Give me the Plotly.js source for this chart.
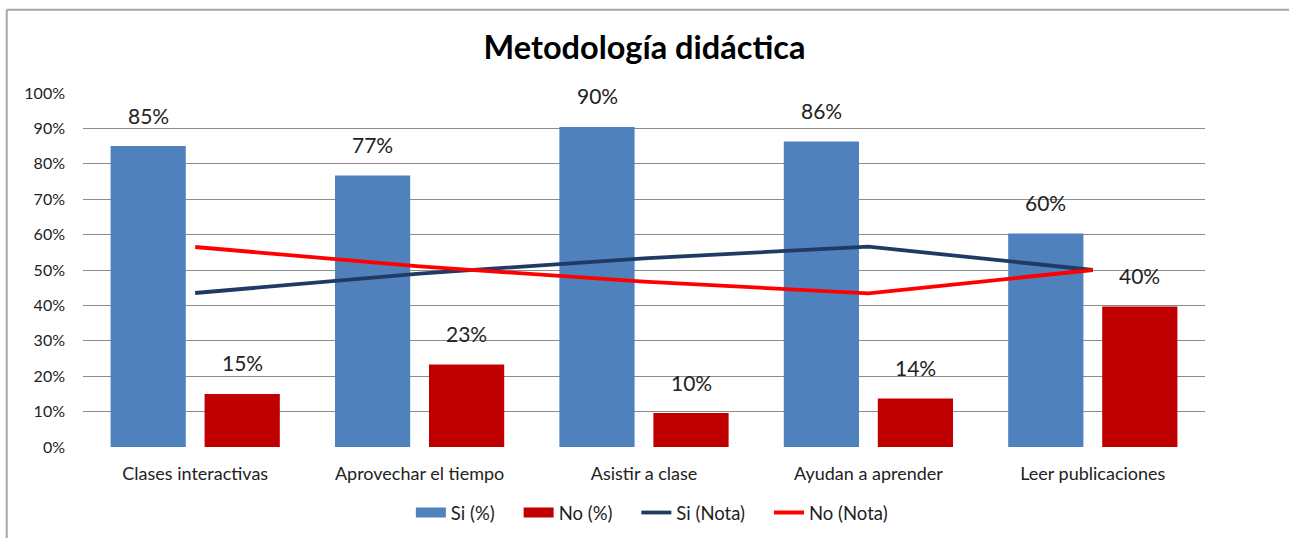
<!DOCTYPE html>
<html>
<head>
<meta charset="utf-8">
<script src="https://cdn.plot.ly/plotly-3.0.1.min.js"></script>
<style>
html,body{margin:0;padding:0;background:#fff;}
#chart{width:1289px;height:538px;}
</style>
</head>
<body>
<div id="chart"></div>
<script>
const categories = ["Clases interactivas", "Aprovechar el tiempo", "Asistir a clase", "Ayudan a aprender", "Leer publicaciones"];
const siPct = [85, 76.7, 90.4, 86.3, 60.3];
const noPct = [15, 23.3, 9.6, 13.7, 39.7];
const siNota = [43.5, 49, 53.3, 56.6, 50];
const noNota = [56.5, 51, 46.7, 43.4, 50];
const yTicks = [0, 10, 20, 30, 40, 50, 60, 70, 80, 90, 100];
const yTickLabels = yTicks.map(v => v + "%");
const seriesNames = ["Si (%)", "No (%)", "Si (Nota)", "No (Nota)"];

const FONT = "Lato, 'Liberation Sans', sans-serif";
const SI_BAR = "#4F81BD", NO_BAR = "#C00000", SI_LINE = "#1F3A63", NO_LINE = "#FF0000";
const PAD = "\u00a0\u00a0\u00a0\u00a0";

const traces = [
  {type: "bar", name: seriesNames[0], x: categories, y: siPct, marker: {color: SI_BAR}, hoverinfo: "skip", showlegend: false},
  {type: "bar", name: seriesNames[1], x: categories, y: noPct, marker: {color: NO_BAR}, hoverinfo: "skip", showlegend: false},
  {type: "scatter", mode: "lines", name: seriesNames[2], x: categories, y: siNota, line: {color: SI_LINE, width: 3.8}, hoverinfo: "skip", showlegend: false},
  {type: "scatter", mode: "lines", name: seriesNames[3], x: categories, y: noNota, line: {color: NO_LINE, width: 3.8}, hoverinfo: "skip", showlegend: false},
  // legend entries (bars shown as wide swatches like the original)
  {type: "scatter", mode: "lines", name: seriesNames[0] + PAD, x: [categories[0]], y: [null], line: {color: SI_BAR, width: 10}, hoverinfo: "skip"},
  {type: "scatter", mode: "lines", name: seriesNames[1] + PAD, x: [categories[0]], y: [null], line: {color: NO_BAR, width: 10}, hoverinfo: "skip"},
  {type: "scatter", mode: "lines", name: seriesNames[2] + PAD, x: [categories[0]], y: [null], line: {color: SI_LINE, width: 3.8}, hoverinfo: "skip"},
  {type: "scatter", mode: "lines", name: seriesNames[3], x: [categories[0]], y: [null], line: {color: NO_LINE, width: 3.8}, hoverinfo: "skip"}
];

const annotations = [];
categories.forEach((c, i) => {
  annotations.push({x: c, y: siPct[i], xshift: -47, yshift: 31, text: Math.round(siPct[i]) + "%", showarrow: false, font: {family: FONT, size: 21, color: "#222"}});
  annotations.push({x: c, y: noPct[i], xshift: 47, yshift: 31, text: Math.round(noPct[i]) + "%", showarrow: false, font: {family: FONT, size: 21, color: "#222"}});
});

const layout = {
  width: 1289, height: 538,
  margin: {l: 83, r: 84, t: 93, b: 91},
  paper_bgcolor: "#fff", plot_bgcolor: "#fff",
  font: {family: FONT, color: "#222"},
  title: {text: "<b>Metodología didáctica</b>", font: {family: FONT, size: 32.5, color: "#000"}, x: 0.5, xanchor: "center", y: 0.912, yanchor: "middle"},
  barmode: "group", bargap: 0.162, bargroupgap: 0.2,
  xaxis: {type: "category", automargin: false, showgrid: false, showline: false, ticks: "", ticklabelstandoff: 14, tickfont: {family: FONT, size: 18, color: "#222"}, fixedrange: true},
  yaxis: {range: [0, 100], automargin: false, tickvals: yTicks, ticktext: yTickLabels, showgrid: true, gridcolor: "#8C8C8C", gridwidth: 1, zeroline: false, showline: false, ticks: "", ticklabelstandoff: 17, tickfont: {family: FONT, size: 16, color: "#222"}, fixedrange: true},
  legend: {orientation: "h", xref: "paper", x: 0.507, xanchor: "center", yref: "container", y: 0.0465, yanchor: "middle", font: {family: FONT, size: 18.5, color: "#222"}, traceorder: "normal", itemwidth: 30, tracegroupgap: 0},
  showlegend: true,
  annotations: annotations,
  shapes: [
    {type: "line", xref: "paper", yref: "paper", x0: -0.068, x1: -0.068, y0: 1.235, y1: -0.3, line: {color: "#A6A6A6", width: 2}},
    {type: "line", xref: "paper", yref: "paper", x0: -0.068, x1: 1.0749, y0: 1.235, y1: 1.235, line: {color: "#A6A6A6", width: 2}}
  ]
};

Plotly.newPlot("chart", traces, layout, {displayModeBar: false, staticPlot: true});
</script>
</body>
</html>
